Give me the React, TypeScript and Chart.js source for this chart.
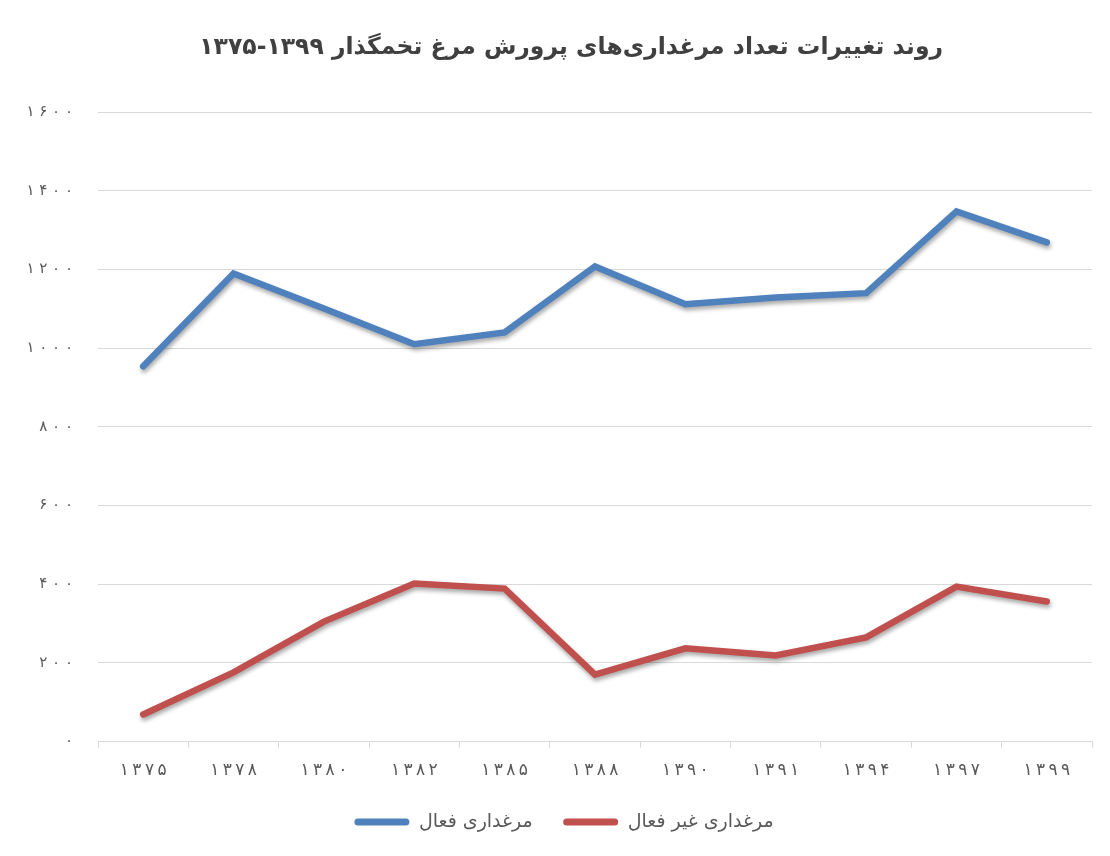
import React, { useEffect, useRef } from "react";
import { Chart, registerables } from "chart.js";

Chart.register(...registerables);

const years = ["۱۳۷۵", "۱۳۷۸", "۱۳۸۰", "۱۳۸۲", "۱۳۸۵", "۱۳۸۸", "۱۳۹۰", "۱۳۹۱", "۱۳۹۴", "۱۳۹۷", "۱۳۹۹"];
const activeFarms = [954, 1190, 1101, 1010, 1040, 1208, 1112, 1129, 1140, 1348, 1269];
const inactiveFarms = [69, 176, 305, 402, 389, 170, 237, 219, 265, 394, 356];
const seriesNames = ["مرغداری فعال", "مرغداری غیر فعال"];
const titleText = "روند تغییرات تعداد مرغداری‌های پرورش مرغ تخمگذار ۱۳۹۹-۱۳۷۵";

const persianDigits = ["۰", "۱", "۲", "۳", "۴", "۵", "۶", "۷", "۸", "۹"];
const toPersian = (n: number) => String(n).replace(/\d/g, (d) => persianDigits[Number(d)]);
const spaced = (s: string, sep: string) => Array.from(s).join(sep);

const FONT = "'DejaVu Sans', 'Noto Sans', sans-serif";
const TITLE_FONT = "bold 23.5px " + FONT;

const shadowPlugin = {
  id: "lineShadow",
  beforeDatasetDraw(chart: any) {
    const ctx = chart.ctx;
    ctx.save();
    ctx.shadowColor = "rgba(0,0,0,0.35)";
    ctx.shadowBlur = 4;
    ctx.shadowOffsetX = 1;
    ctx.shadowOffsetY = 3;
  },
  afterDatasetDraw(chart: any) {
    chart.ctx.restore();
  },
};

// Draws the title centred a little right of the canvas middle, as in the reference
const titlePlugin = {
  id: "offsetTitle",
  afterLayout(chart: any) {
    // nudge the legend row right so it is centred like the reference
    if (chart.legend) {
      chart.legend.left += 18;
      chart.legend.right += 18;
    }
  },
  afterDraw(chart: any) {
    const ctx = chart.ctx;
    const t = chart.titleBlock;
    if (!t) return;
    ctx.save();
    ctx.font = TITLE_FONT;
    ctx.fillStyle = "#404040";
    ctx.textAlign = "center";
    ctx.textBaseline = "middle";
    const cx = (chart.width + chart.chartArea.left * 0.33) / 2;
    ctx.fillText(titleText, cx, t.top + 48);
    ctx.restore();
  },
};

export default function App() {
  const ref = useRef<HTMLCanvasElement | null>(null);
  useEffect(() => {
    if (!ref.current) return;
    const chart = new Chart(ref.current, {
      type: "line",
      data: {
        labels: years,
        datasets: [
          {
            label: seriesNames[0],
            data: activeFarms,
            borderColor: "#4F81BD",
            backgroundColor: "#4F81BD",
            borderWidth: 6.5,
            pointRadius: 0,
            borderCapStyle: "round",
            tension: 0,
          },
          {
            label: seriesNames[1],
            data: inactiveFarms,
            borderColor: "#C0504D",
            backgroundColor: "#C0504D",
            borderWidth: 6.5,
            pointRadius: 0,
            borderCapStyle: "round",
            tension: 0,
          },
        ],
      },
      options: {
        animation: false,
        responsive: false,
        maintainAspectRatio: false,
        layout: { padding: { left: 0, right: 18, top: 0, bottom: 14.5 } },
        plugins: {
          title: {
            display: true,
            text: titleText,
            color: "rgba(0,0,0,0)",
            font: { family: FONT, size: 23.5, weight: "bold" },
            padding: { top: 30, bottom: 54 },
          },
          legend: {
            position: "bottom",
            labels: {
              color: "#595959",
              font: { family: FONT, size: 19 },
              boxWidth: 55,
              boxHeight: 7,
              useBorderRadius: true,
              borderRadius: 3.5,
              padding: 30.5,
              generateLabels: (chart: any) =>
                Chart.defaults.plugins.legend.labels
                  .generateLabels(chart)
                  .map((l: any) => ({ ...l, lineWidth: 0 })),
            },
          },
          tooltip: { enabled: false },
        },
        scales: {
          x: {
            offset: true,
            afterFit: (scale: any) => {
              scale.height = scale.height - 12;
            },
            grid: {
              display: true,
              drawOnChartArea: false,
              drawTicks: true,
              tickLength: 6,
              color: "#d9d9d9",
              offset: true,
            },
            border: { display: true, color: "#d9d9d9", width: 1 },
            ticks: {
              color: "#595959",
              font: { family: FONT, size: 17 },
              padding: 13,
              callback: function (this: any, v: any) {
                return spaced(String(this.getLabelForValue(v)), "\u2009");
              },
            },
          },
          y: {
            min: 0,
            max: 1600,
            afterFit: (scale: any) => {
              scale.width = 98;
            },
            grid: { color: "#d9d9d9", drawTicks: false, lineWidth: 1 },
            border: { display: false },
            ticks: {
              stepSize: 200,
              color: "#595959",
              font: { family: FONT, size: 15 },
              padding: 25,
              callback: (v: any) => spaced(toPersian(Number(v)), " "),
            },
          },
        },
      },
      plugins: [shadowPlugin, titlePlugin],
    });
    return () => chart.destroy();
  }, []);
  return (
    <div style={{ position: "fixed", left: 0, top: 0, width: 1110, height: 856, background: "#fff" }}>
      <canvas ref={ref} width={1110} height={856} style={{ width: 1110, height: 856 }} />
    </div>
  );
}
